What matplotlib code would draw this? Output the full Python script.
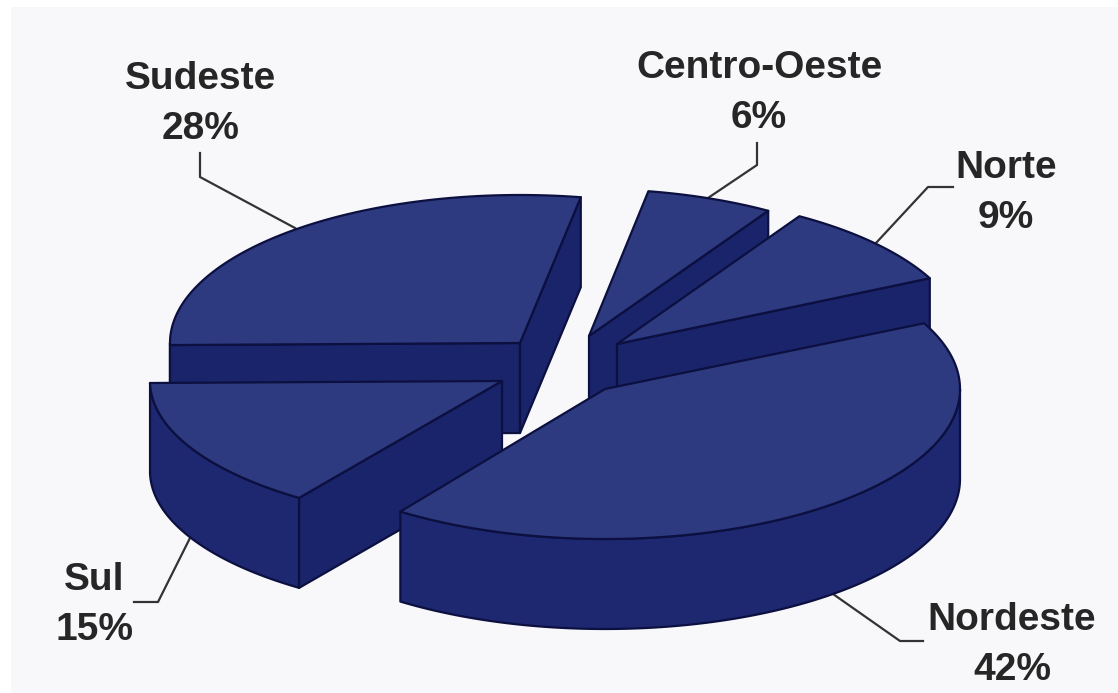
import numpy as np
import matplotlib
matplotlib.use("Agg")
import matplotlib.pyplot as plt
from matplotlib.patches import Polygon, Rectangle

regions = ["Centro-Oeste", "Norte", "Nordeste", "Sul", "Sudeste"]
shares = [6, 9, 42, 15, 28]
label_text = [f"{r}\n{s}%" for r, s in zip(regions, shares)]

# layout (pixel space of the picture)
START_ANGLE = 10.0
DEPTH = 90
TOP = "#2d3a7f"
WALL = "#1d2870"
WALL_DARK = "#1a246b"
EDGE = "#0c1040"
centers = {"Centro-Oeste": (589, 336), "Norte": (617, 344), "Nordeste": (605, 389),
           "Sul": (502, 381), "Sudeste": (520, 343)}
radii = {"Centro-Oeste": (342, 147), "Norte": (348, 150), "Nordeste": (355, 150),
         "Sul": (352, 143), "Sudeste": (350, 148)}
draw_order = ["Sudeste", "Centro-Oeste", "Norte", "Sul", "Nordeste"]
label_pos = {"Centro-Oeste": (759, 93), "Norte": (1006, 193), "Nordeste": (1012, 645),
             "Sul": (94, 605), "Sudeste": (201, 104)}
leaders = {"Centro-Oeste": [(757, 143), (757, 165), (708, 198)],
           "Norte": [(953, 187), (928, 187), (876, 243)],
           "Nordeste": [(833, 594), (900, 641), (923, 641)],
           "Sul": [(190, 538), (158, 602), (134, 602)],
           "Sudeste": [(200, 153), (200, 177), (295, 228)]}

fig = plt.figure(figsize=(11.18, 6.93), dpi=100, facecolor="white")
ax = fig.add_axes([0, 0, 1, 1])
ax.set_xlim(0, 1118)
ax.set_ylim(693, 0)
ax.axis("off")
ax.add_patch(Rectangle((11, 7), 1107, 686, facecolor="#f8f8fa", edgecolor="none", zorder=0))

total = sum(shares)
starts = START_ANGLE + 360 * np.cumsum([0] + shares[:-1]) / total
sweeps = 360 * np.array(shares) / total
geom = {r: (a, a + w) for r, a, w in zip(regions, starts, sweeps)}


def rim(name, a):
    cx, cy = centers[name]
    rx, ry = radii[name]
    t = np.radians(a)
    return np.column_stack([cx + rx * np.sin(t), cy - ry * np.cos(t)])


z = 1
for name in draw_order:
    a0, a1 = geom[name]
    c = np.array(centers[name], float)
    down = np.array([0, DEPTH])
    # outer wall: only the part facing the viewer (90..270 clockwise from top)
    lo, hi = max(a0, 90), min(a1, 270)
    if hi > lo:
        arc = rim(name, np.linspace(lo, hi, 120))
        ax.add_patch(Polygon(np.vstack([arc, (arc + down)[::-1]]), closed=True, facecolor=WALL,
                             edgecolor=EDGE, lw=1.6, joinstyle="round", zorder=z))
        z += 1
    # radial walls facing the viewer
    if np.sin(np.radians(a0)) < 0:
        p = rim(name, np.array([a0]))[0]
        ax.add_patch(Polygon([c, p, p + down, c + down], closed=True, facecolor=WALL_DARK,
                             edgecolor=EDGE, lw=1.6, joinstyle="round", zorder=z))
        z += 1
    if np.sin(np.radians(a1)) > 0:
        p = rim(name, np.array([a1]))[0]
        ax.add_patch(Polygon([c, p, p + down, c + down], closed=True, facecolor=WALL_DARK,
                             edgecolor=EDGE, lw=1.6, joinstyle="round", zorder=z))
        z += 1
    arc = rim(name, np.linspace(a0, a1, 160))
    ax.add_patch(Polygon(np.vstack([c, arc]), closed=True, facecolor=TOP, edgecolor=EDGE,
                         lw=1.6, joinstyle="round", zorder=z))
    z += 1

for name, txt in zip(regions, label_text):
    pts = np.array(leaders[name])
    ax.plot(pts[:, 0], pts[:, 1], color="#333333", lw=1.6, zorder=0.5)
    x, y = label_pos[name]
    ax.text(x, y, txt, ha="center", va="center", family="Liberation Sans", weight="bold",
            fontsize=28, color="#262626", linespacing=1.47, zorder=z)

fig.savefig("out.png", dpi=100, facecolor="white")
